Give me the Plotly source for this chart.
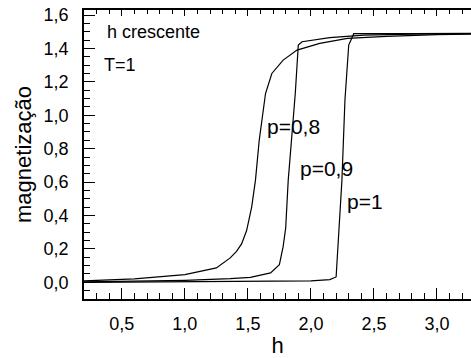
import plotly.graph_objects as go

# p = 0.8
h_p08 = [0.2, 0.6, 1.0, 1.25, 1.36, 1.41, 1.45, 1.49, 1.53, 1.56, 1.59, 1.64, 1.69, 1.78, 1.89, 2.07, 2.29, 2.6, 3.0, 3.3]
m_p08 = [0.008, 0.02, 0.046, 0.086, 0.146, 0.185, 0.23, 0.31, 0.45, 0.61, 0.85, 1.13, 1.25, 1.33, 1.39, 1.43, 1.46, 1.472, 1.482, 1.486]
# p = 0.9
h_p09 = [0.2, 1.0, 1.36, 1.52, 1.68, 1.75, 1.78, 1.80, 1.82, 1.85, 1.876, 1.90, 1.93, 2.15, 2.42, 2.8, 3.3]
m_p09 = [0.003, 0.012, 0.022, 0.03, 0.056, 0.106, 0.215, 0.325, 0.61, 0.89, 1.13, 1.42, 1.44, 1.465, 1.48, 1.485, 1.488]
# p = 1
h_p1 = [0.2, 1.0, 2.0, 2.15, 2.2, 2.246, 2.27, 2.3, 2.34, 2.8, 3.3]
m_p1 = [0.0, 0.002, 0.008, 0.016, 0.032, 0.61, 1.09, 1.42, 1.488, 1.489, 1.49]

series = [(h_p08, m_p08), (h_p09, m_p09), (h_p1, m_p1)]

FONT = "Arial, Liberation Sans, sans-serif"

fig = go.Figure()
for hx, my in series:
    fig.add_trace(go.Scatter(x=hx, y=my, mode="lines",
                             line=dict(color="black", width=1.2),
                             showlegend=False, cliponaxis=True))
# invisible trace for the top axis
fig.add_trace(go.Scatter(x=[0.2], y=[0], xaxis="x2", mode="markers",
                         marker=dict(opacity=0), showlegend=False, hoverinfo="skip"))

labels = [("h crescente", 0.367, 1.498, 18),
          ("T=1", 0.341, 1.30, 18),
          ("p=0,8", 1.632, 0.931, 21),
          ("p=0,9", 1.90, 0.683, 21),
          ("p=1", 2.272, 0.484, 21)]
for txt, x, y, sz in labels:
    fig.add_annotation(x=x, y=y, text=txt, showarrow=False, xanchor="left",
                       yanchor="middle", font=dict(size=sz, color="black", family=FONT))

fig.update_layout(
    width=471, height=358,
    margin=dict(l=84, r=0, t=10, b=59),
    paper_bgcolor="white", plot_bgcolor="white",
    font=dict(family=FONT, color="black", size=18),
    separators=", ",
    xaxis=dict(range=[0.2, 3.27], tickmode="array",
               tickvals=[0.5, 1.0, 1.5, 2.0, 2.5, 3.0],
               ticktext=["0,5", "1,0", "1,5", "2,0", "2,5", "3,0"],
               ticks="inside", ticklen=11, tickwidth=1.2, tickcolor="black",
               minor=dict(dtick=0.1, tick0=0, ticks="inside", ticklen=6, tickwidth=1, tickcolor="black"),
               showline=True, linecolor="black", linewidth=1.5,
               showgrid=False, zeroline=False, automargin=False,
               tickfont=dict(size=18), ticklabelstandoff=8,
               title=dict(text="h", font=dict(size=22), standoff=5)),
    xaxis2=dict(range=[0.2, 3.27], overlaying="x", side="top", matches="x",
                tickmode="array", tickvals=[0.5, 1.0, 1.5, 2.0, 2.5, 3.0],
                ticks="inside", ticklen=6, tickwidth=1.2, tickcolor="black",
                minor=dict(dtick=0.1, tick0=0, ticks="inside", ticklen=4, tickwidth=1, tickcolor="black"),
                showticklabels=False, showline=True, linecolor="black", linewidth=1.5,
                showgrid=False, zeroline=False, automargin=False),
    yaxis=dict(range=[-0.1, 1.63], tickmode="array",
               tickvals=[0.0, 0.2, 0.4, 0.6, 0.8, 1.0, 1.2, 1.4, 1.6],
               ticktext=["0,0", "0,2", "0,4", "0,6", "0,8", "1,0", "1,2", "1,4", "1,6"],
               ticks="inside", ticklen=11, tickwidth=1.2, tickcolor="black",
               minor=dict(dtick=0.05, tick0=0, ticks="inside", ticklen=6, tickwidth=1, tickcolor="black"),
               showline=True, linecolor="black", linewidth=1.5,
               showgrid=False, zeroline=False, automargin=False,
               tickfont=dict(size=18), ticklabelstandoff=10,
               title=dict(text="magnetização", font=dict(size=22), standoff=6)),
)

fig.write_html("out.html", config={"displayModeBar": False},
               post_script="document.body.style.margin='0';document.body.style.overflow='hidden';")
